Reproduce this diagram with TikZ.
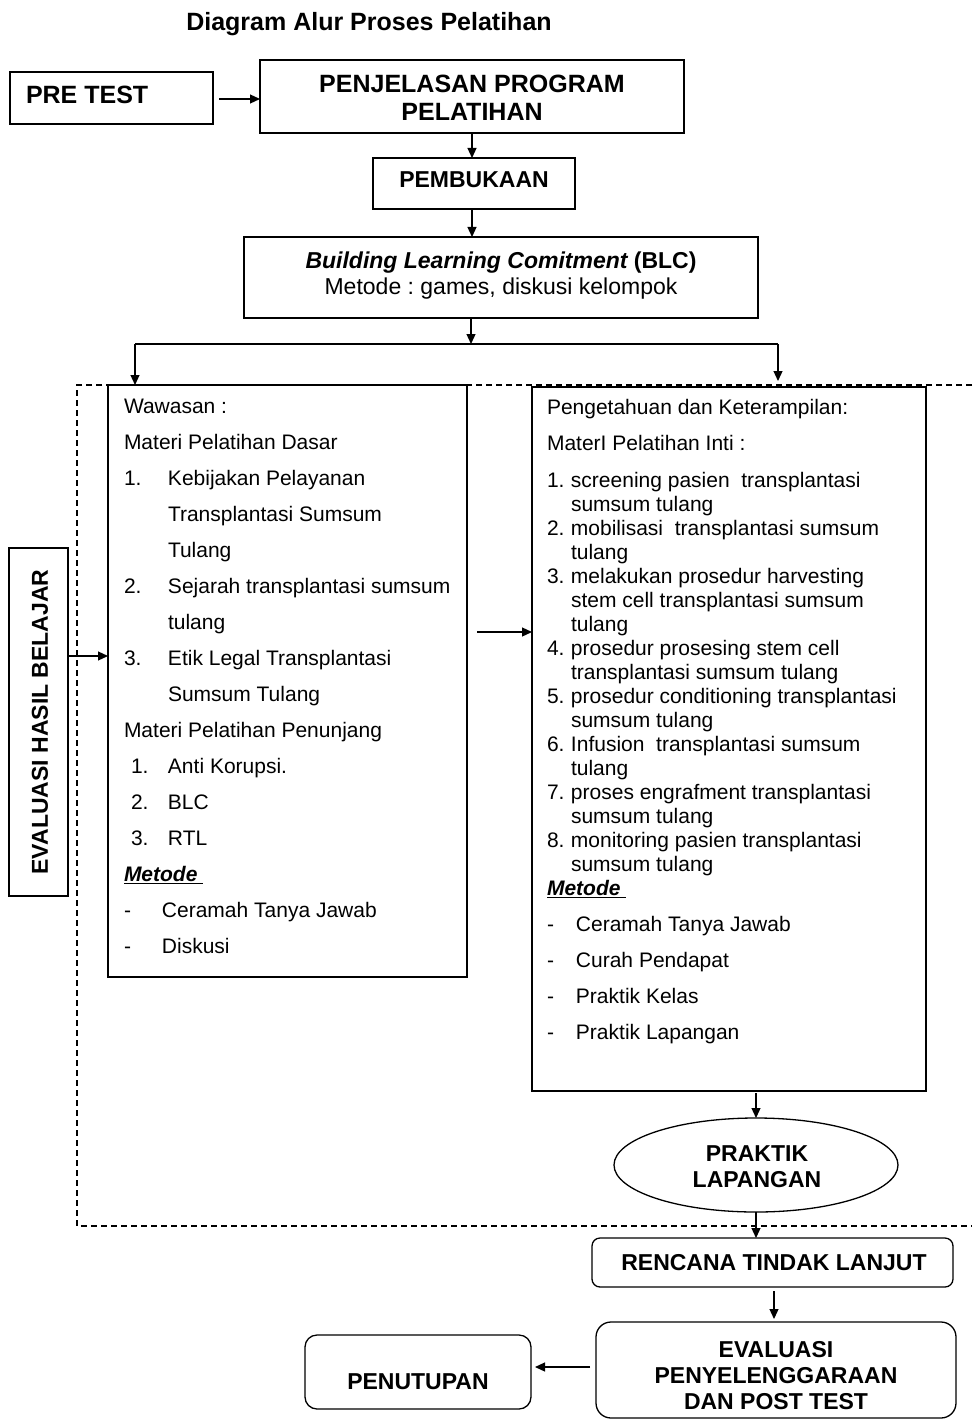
\documentclass[tikz,border=0pt]{standalone}
\usepackage{fontspec}
\setmainfont{Liberation Sans}
\usetikzlibrary{arrows.meta,shapes.geometric}
\frenchspacing
\newcommand\hdfont{\fontsize{23}{26}\selectfont\bfseries}
\newcommand\bigfont{\fontsize{25}{28}\selectfont\bfseries}
\newcommand\bdfont{\fontsize{21}{36}\selectfont}
\newcommand\bdfontb{\fontsize{21}{36.5}\selectfont}
\newcommand\lsfont{\fontsize{21}{24}\selectfont}
\newcommand\blcfont{\fontsize{23}{26}\selectfont}
\newcommand\numbx[2]{\makebox[#1][l]{#2}}
\newcommand\metodeul{\makebox[0pt][l]{\rule[-3pt]{79pt}{1.4pt}}\textbf{\textit{Metode}}}
\begin{document}
\begin{tikzpicture}[x=1pt,y=-1pt,
  box/.style={draw, rectangle, line width=1.3pt, inner sep=0pt, outer sep=0pt},
  rbox/.style={box, rounded corners=#1},
  arr/.style={line width=1.2pt, -{Triangle[length=10pt,width=9pt]}},
  barline/.style={line width=1.8pt},
  dashbox/.style={line width=1.3pt, dash pattern=on 6pt off 4pt},
  txt/.style={inner sep=0pt, outer sep=0pt}]
\fill[white] (0,0) rectangle (972,1420);
\useasboundingbox (0,0) rectangle (972,1420);

% dashed frame
\draw[dashbox] (972,385) -- (77,385) -- (77,1226) -- (972,1226);

% title
\node[txt, anchor=base, font=\bigfont] (title) at (369,31) {Diagram Alur Proses Pelatihan};

% top boxes
\node[box, minimum width=203pt, minimum height=52pt] (pre) at (111.5,98) {};
\node[txt, anchor=base west, font=\bigfont] (pret) at (26,104) {PRE TEST};

\node[box, minimum width=424pt, minimum height=73pt] (penj) at (472,96.5) {};
\node[txt, anchor=base, font=\bigfont] (penjt) at (472,93) {\begin{tabular}[t]{@{}c@{}}PENJELASAN PROGRAM\\PELATIHAN\end{tabular}};

\node[box, minimum width=202pt, minimum height=51pt] (pemb) at (474,183.5) {};
\node[txt, anchor=base, font=\hdfont] (pembt) at (474,188) {PEMBUKAAN};

\node[box, minimum width=514pt, minimum height=81pt] (blc) at (501,277.5) {};
\node[txt, anchor=base, font=\blcfont] (blct) at (501,269) {\begin{tabular}[t]{@{}c@{}}{\bfseries\itshape Building Learning Comitment} {\bfseries (BLC)}\\Metode : games, diskusi kelompok\end{tabular}};

% left box
\node[box, minimum width=359pt, minimum height=592pt] (lbox) at (287.5,681) {};
\node[txt, anchor=base west, font=\bdfont] (lt) at (124,413) {\begin{tabular}[t]{@{}l@{}}
Wawasan :\\
Materi Pelatihan Dasar\\
\numbx{44pt}{1.}Kebijakan Pelayanan\\
\hspace*{44pt}Transplantasi Sumsum\\
\hspace*{44pt}Tulang\\
\numbx{44pt}{2.}Sejarah transplantasi sumsum\\
\hspace*{44pt}tulang\\
\numbx{44pt}{3.}Etik Legal Transplantasi\\
\hspace*{44pt}Sumsum Tulang\\
Materi Pelatihan Penunjang\\
\hspace*{7pt}\numbx{37pt}{1.}Anti Korupsi.\\
\hspace*{7pt}\numbx{37pt}{2.}BLC\\
\hspace*{7pt}\numbx{37pt}{3.}RTL\\
\metodeul\\
\numbx{38pt}{-}Ceramah Tanya Jawab\\
\numbx{38pt}{-}Diskusi
\end{tabular}};

% right box
\node[box, minimum width=394pt, minimum height=704pt] (rbox) at (729,739) {};
\node[txt, anchor=base west, font=\bdfontb] (rt1) at (547,414) {\begin{tabular}[t]{@{}l@{}}
Pengetahuan dan Keterampilan:\\
MaterI Pelatihan Inti :
\end{tabular}};
\node[txt, anchor=base west, font=\lsfont] (rt2) at (547,487) {\begin{tabular}[t]{@{}l@{}}
\numbx{24pt}{1.}screening pasien\ \ transplantasi\\
\hspace*{24pt}sumsum tulang\\
\numbx{24pt}{2.}mobilisasi\ \ transplantasi sumsum\\
\hspace*{24pt}tulang\\
\numbx{24pt}{3.}melakukan prosedur harvesting\\
\hspace*{24pt}stem cell transplantasi sumsum\\
\hspace*{24pt}tulang\\
\numbx{24pt}{4.}prosedur prosesing stem cell\\
\hspace*{24pt}transplantasi sumsum tulang\\
\numbx{24pt}{5.}prosedur conditioning transplantasi\\
\hspace*{24pt}sumsum tulang\\
\numbx{24pt}{6.}Infusion\ \ transplantasi sumsum\\
\hspace*{24pt}tulang\\
\numbx{24pt}{7.}proses engrafment transplantasi\\
\hspace*{24pt}sumsum tulang\\
\numbx{24pt}{8.}monitoring pasien transplantasi\\
\hspace*{24pt}sumsum tulang\\
\metodeul
\end{tabular}};
\node[txt, anchor=base west, font=\bdfont] (rt3) at (547,931) {\begin{tabular}[t]{@{}l@{}}
\numbx{29pt}{-}Ceramah Tanya Jawab\\
\numbx{29pt}{-}Curah Pendapat\\
\numbx{29pt}{-}Praktik Kelas\\
\numbx{29pt}{-}Praktik Lapangan
\end{tabular}};

% evaluasi hasil belajar
\node[box, minimum width=59pt, minimum height=348pt] (eval) at (38.5,722) {};
\node[txt, rotate=90, font=\hdfont] (evalt) at (40,722) {EVALUASI HASIL BELAJAR};

% praktik lapangan
\node[draw, ellipse, line width=1.3pt, inner sep=0pt, outer sep=0pt, minimum width=284pt, minimum height=94pt] (pl) at (756,1165) {};
\node[txt, anchor=base, font=\hdfont] (plt) at (757,1161) {\begin{tabular}[t]{@{}c@{}}PRAKTIK\\LAPANGAN\end{tabular}};

% bottom boxes
\node[rbox=8pt, minimum width=361pt, minimum height=49pt] (rtl) at (772.5,1262.5) {};
\node[txt, anchor=base, font=\hdfont] (rtlt) at (774,1270) {RENCANA TINDAK LANJUT};

\node[rbox=15pt, minimum width=360pt, minimum height=96pt] (evp) at (776,1370) {};
\node[txt, anchor=base, font=\hdfont] (evpt) at (776,1357) {\begin{tabular}[t]{@{}c@{}}EVALUASI\\PENYELENGGARAAN\\DAN POST TEST\end{tabular}};

\node[rbox=12pt, minimum width=226pt, minimum height=74pt] (pen) at (418,1372) {};
\node[txt, anchor=base, font=\hdfont] (pent) at (418,1389) {PENUTUPAN};

% connectors
\coordinate (a1) at (219,99);
\draw[arr] (a1) -- (a1 -| penj.west);
\draw[arr] (penj.south) -- (penj.south |- pemb.north);
\draw[arr] (penj.south |- pemb.south) -- (penj.south |- blc.north);
\coordinate (bm) at (471,344);
\draw[arr] (bm |- blc.south) -- (bm);
\coordinate (bl) at (135,344);
\coordinate (br) at (778,344);
\draw[barline] (bl) -- (br);
\draw[arr] (bl) -- (bl |- lbox.north);
\coordinate (brend) at (778,381);
\draw[arr] (br) -- (brend);
\coordinate (ea) at (0,656);
\draw[arr] (eval.east |- ea) -- (lbox.west |- ea);
\coordinate (ma) at (477,632);
\draw[arr] (ma) -- (ma -| rbox.west);
\draw[arr, shorten <=2pt] (pl.north |- rbox.south) -- (pl.north);
\draw[arr] (pl.south) -- (pl.south |- rtl.north);
\coordinate (re) at (774,0);
\draw[arr, shorten <=4pt, shorten >=3pt] (rtl.south -| re) -- (evp.north -| re);
\coordinate (ep) at (0,1367);
\draw[arr, shorten <=6pt, shorten >=4pt] (evp.west |- ep) -- (pen.east |- ep);
\end{tikzpicture}
\end{document}
